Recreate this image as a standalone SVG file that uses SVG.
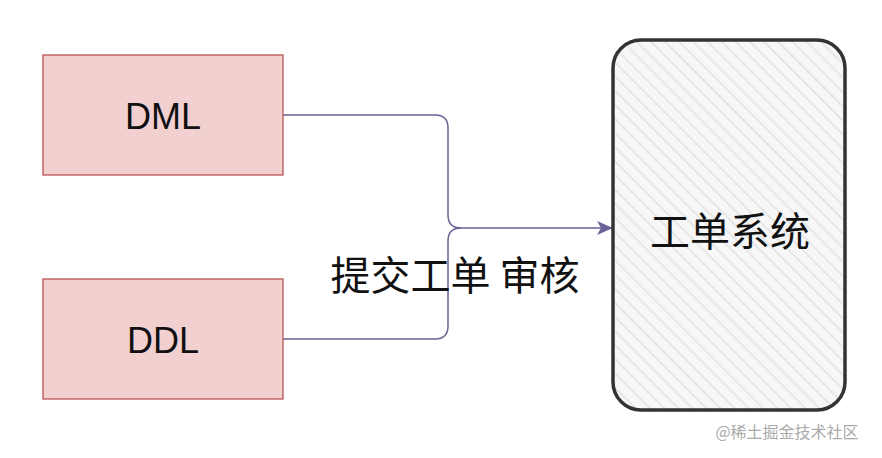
<svg xmlns="http://www.w3.org/2000/svg" width="882" height="458" viewBox="0 0 882 458">
<style>
.src{fill:#f2d0d0;stroke:#b85450;stroke-width:1.3}
.lbl{font-family:"Liberation Sans",sans-serif;font-size:36px;fill:#111;text-anchor:middle}
.cjk{font-family:"Noto Sans CJK SC",sans-serif;fill:#111}
.con{fill:none;stroke:#6c6196;stroke-width:1.5}
</style>
<defs>
<pattern id="h" width="10" height="10" patternUnits="userSpaceOnUse" patternTransform="rotate(-45)">
<rect width="10" height="10" fill="#f7f7f7"/><line x1="0" y1="0" x2="0" y2="10" stroke="#e2e2e2" stroke-width="3"/>
</pattern>
<marker id="a" markerWidth="16" markerHeight="14" refX="15" refY="7" orient="auto" markerUnits="userSpaceOnUse">
<path d="M0,0 L16,7 L0,14 L4,7 Z" fill="#6c6196"/>
</marker>
</defs>
<rect width="882" height="458" fill="#fff"/>
<g id="conn">
<path class="con" d="M283,115 H435 Q448,115 448,128 V215 Q448,228 461,228 H612" marker-end="url(#a)"/>
<path class="con" d="M283,339 H435 Q448,339 448,326 V241 Q448,228 461,228"/>
<text class="cjk" x="455" y="290" font-size="40" text-anchor="middle">提交工单 审核</text>
</g>
<g id="dml"><rect class="src" x="43" y="55" width="240" height="120"/><text class="lbl" x="163" y="129">DML</text></g>
<g id="ddl"><rect class="src" x="43" y="279" width="240" height="120"/><text class="lbl" x="163" y="353">DDL</text></g>
<g id="sys"><rect x="613" y="40" width="232" height="370" rx="28" fill="url(#h)" stroke="#333" stroke-width="3.5"/>
<text class="cjk" x="730" y="246" font-size="40" text-anchor="middle">工单系统</text></g>
<text class="cjk" x="787" y="438" font-size="16" style="fill:#aaa" text-anchor="middle">@稀土掘金技术社区</text>
</svg>
